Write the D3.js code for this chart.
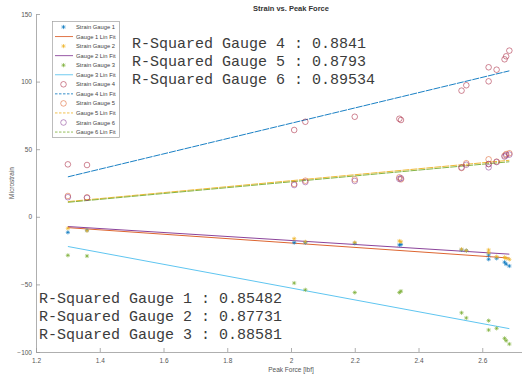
<!DOCTYPE html>
<html>
<head>
<meta charset="utf-8">
<script src="https://cdn.jsdelivr.net/npm/d3@7"></script>
<style>
  html, body { margin: 0; padding: 0; background: #fff; overflow: hidden; }
  svg { display: block; }
</style>
</head>
<body>
<svg id="chart" width="522" height="377"></svg>
<script>
// Peak force of each test [lbf]
const peakForce = [1.30, 1.36, 2.01, 2.045, 2.20, 2.34, 2.345, 2.535, 2.55, 2.62, 2.62, 2.645, 2.67, 2.675, 2.685];

// Microstrain readings per gauge
const gauge1 = [-11.5, -10, -19.1, -19.1, -19.6, -20.8, -20.5, -24.5, -25, -31.4, -28.2, -30.7, -33.6, -35, -36.4];
const gauge2 = [-8.5, -10.3, -16.2, -18.5, -19, -17.9, -18.5, -24, -25, -24.5, -26.5, -29.5, -30, -30.7, -31.5];
const gauge3 = [-28.5, -29, -49, -54, -56, -56, -55, -71, -74.8, -76.8, -83.7, -82.5, -89.9, -91.6, -94.1];
const gauge4 = [38.8, 38.3, 64.2, 70.3, 74, 72.5, 71.6, 93.3, 97.3, 110.6, 100.2, 108.8, 116.5, 118.7, 122.9];
const gauge5 = [15.4, 14.4, 24.3, 26.7, 27.7, 29.2, 27.7, 36.1, 39.6, 42.5, 39, 40.8, 45.2, 46.4, 47];
const gauge6 = [14.5, 14, 23.5, 25.7, 26.5, 28, 28.5, 36.5, 38.5, 39, 36.6, 40.5, 44.5, 45.5, 46];

// Reported coefficients of determination
const rSquared = ["0.85482", "0.87731", "0.88581", "0.8841", "0.8793", "0.89534"];

const xTicks = [1.2, 1.4, 1.6, 1.8, 2, 2.2, 2.4, 2.6];
const yTicks = [-100, -50, 0, 50, 100, 150];

const gauges = [
  { name: "Strain Gauge 1", fit: "Gauge 1 Lin Fit", values: gauge1, marker: "star",   color: "#0072BD", fitColor: "#D95319", dash: null },
  { name: "Strain Gauge 2", fit: "Gauge 2 Lin Fit", values: gauge2, marker: "star",   color: "#EDB120", fitColor: "#7E2F8E", dash: null },
  { name: "Strain Gauge 3", fit: "Gauge 3 Lin Fit", values: gauge3, marker: "star",   color: "#77AC30", fitColor: "#4DBEEE", dash: null },
  { name: "Strain Gauge 4", fit: "Gauge 4 Lin Fit", values: gauge4, marker: "circle", color: "#A2142F", fitColor: "#0072BD", dash: "7,1" },
  { name: "Strain Gauge 5", fit: "Gauge 5 Lin Fit", values: gauge5, marker: "circle", color: "#D95319", fitColor: "#EDB120", dash: "7,1" },
  { name: "Strain Gauge 6", fit: "Gauge 6 Lin Fit", values: gauge6, marker: "circle", color: "#7E2F8E", fitColor: "#77AC30", dash: "7,1" }
];

const svg = d3.select("#chart");
const axisColor = "#9a9a9a";
const labelColor = "#555";

// x limits run to 2.8; the window shows the axis up to about 2.72
const x = d3.scaleLinear().domain([1.2, 2.8]).range([36, 546]);
const y = d3.scaleLinear().domain([-100, 150]).range([352, 14]);

// Least-squares line through one gauge's readings
function linFit(xs, ys) {
  const mx = d3.mean(xs), my = d3.mean(ys);
  let sxy = 0, sxx = 0;
  xs.forEach((xv, i) => { sxy += (xv - mx) * (ys[i] - my); sxx += (xv - mx) ** 2; });
  const slope = sxy / sxx;
  return v => my + slope * (v - mx);
}

// Axes (inward ticks, no box)
const xAxis = svg.append("g")
  .attr("transform", `translate(0,${y(-100)})`)
  .call(d3.axisBottom(x).tickValues(xTicks).tickSizeInner(-4).tickSizeOuter(0).tickPadding(6).tickFormat(d3.format("")));
const yAxis = svg.append("g")
  .attr("transform", `translate(${x(1.2)},0)`)
  .call(d3.axisLeft(y).tickValues(yTicks).tickSizeInner(-4).tickSizeOuter(0).tickPadding(4));
[xAxis, yAxis].forEach(g => {
  g.selectAll("path, line").attr("stroke", axisColor).attr("stroke-width", 0.8);
  g.selectAll("text").attr("fill", labelColor).style("font-family", "Liberation Sans, Arial, sans-serif").style("font-size", "6.5px");
});

// Fit lines
const xExt = d3.extent(peakForce);
const line = d3.line().x(d => x(d[0])).y(d => y(d[1]));
gauges.forEach(g => {
  const f = linFit(peakForce, g.values);
  svg.append("path")
    .datum(xExt.map(v => [v, f(v)]))
    .attr("d", line)
    .attr("fill", "none")
    .attr("stroke", g.fitColor)
    .attr("stroke-width", 0.9)
    .attr("stroke-dasharray", g.dash);
});

// Markers
function drawMarker(sel, type, color, cx, cy) {
  if (type === "circle") {
    sel.append("circle").attr("cx", cx).attr("cy", cy).attr("r", 2.8)
      .attr("fill", "none").attr("stroke", color).attr("stroke-width", 0.6).attr("stroke-opacity", 0.85);
  } else {
    const s = 2.1, d = s * 0.72;
    sel.append("path")
      .attr("d", `M${cx - s},${cy}L${cx + s},${cy}M${cx},${cy - s}L${cx},${cy + s}` +
                 `M${cx - d},${cy - d}L${cx + d},${cy + d}M${cx - d},${cy + d}L${cx + d},${cy - d}`)
      .attr("stroke", color).attr("stroke-width", 0.7).attr("fill", "none").attr("stroke-opacity", 0.9);
  }
}
gauges.forEach(g => {
  const grp = svg.append("g");
  g.values.forEach((v, i) => drawMarker(grp, g.marker, g.color, x(peakForce[i]), y(v)));
});

// Title and axis labels
const sans = "Liberation Sans, Arial, sans-serif";
svg.append("text").attr("x", 291).attr("y", 10.5).attr("text-anchor", "middle")
  .style("font-family", sans).style("font-size", "7.5px").style("font-weight", "bold").attr("fill", "#333")
  .text("Strain vs. Peak Force");
svg.append("text").attr("x", 291).attr("y", 372).attr("text-anchor", "middle")
  .style("font-family", sans).style("font-size", "6.5px").attr("fill", labelColor)
  .text("Peak Force [lbf]");
svg.append("text").attr("transform", `translate(14,${y(25)}) rotate(-90)`).attr("text-anchor", "middle")
  .style("font-family", sans).style("font-size", "6.5px").attr("fill", labelColor)
  .text("Microstrain");

// Legend
const legend = svg.append("g");
legend.append("rect").attr("x", 52.5).attr("y", 21.5).attr("width", 67).attr("height", 116)
  .attr("fill", "#fff").attr("stroke", "#a0a0a0").attr("stroke-width", 0.7);
const rowH = 9.55, row0 = 27;
gauges.forEach((g, i) => {
  const ry1 = row0 + (2 * i) * rowH, ry2 = row0 + (2 * i + 1) * rowH;
  drawMarker(legend, g.marker, g.color, 63.5, ry1);
  legend.append("line").attr("x1", 55).attr("x2", 73).attr("y1", ry2).attr("y2", ry2)
    .attr("stroke", g.fitColor).attr("stroke-width", 0.8).attr("stroke-dasharray", g.dash ? "2.5,1.5" : null);
  [[g.name, ry1], [g.fit, ry2]].forEach(([t, yy]) => {
    legend.append("text").attr("x", 76).attr("y", yy + 2)
      .style("font-family", sans).style("font-size", "5.8px").attr("fill", "#444").text(t);
  });
});

// R-squared annotations
const mono = "Liberation Mono, Courier New, monospace";
const topNotes = [3, 4, 5], bottomNotes = [0, 1, 2];
topNotes.forEach((k, i) => {
  svg.append("text").attr("x", 132).attr("y", 47.5 + i * 18)
    .style("font-family", mono).style("font-size", "15px").attr("fill", "#3c3c3c")
    .text(`R-Squared Gauge ${k + 1} : ${rSquared[k]}`);
});
bottomNotes.forEach((k, i) => {
  svg.append("text").attr("x", 39).attr("y", 303 + i * 18)
    .style("font-family", mono).style("font-size", "15px").attr("fill", "#3c3c3c")
    .text(`R-Squared Gauge ${k + 1} : ${rSquared[k]}`);
});
</script>
</body>
</html>
